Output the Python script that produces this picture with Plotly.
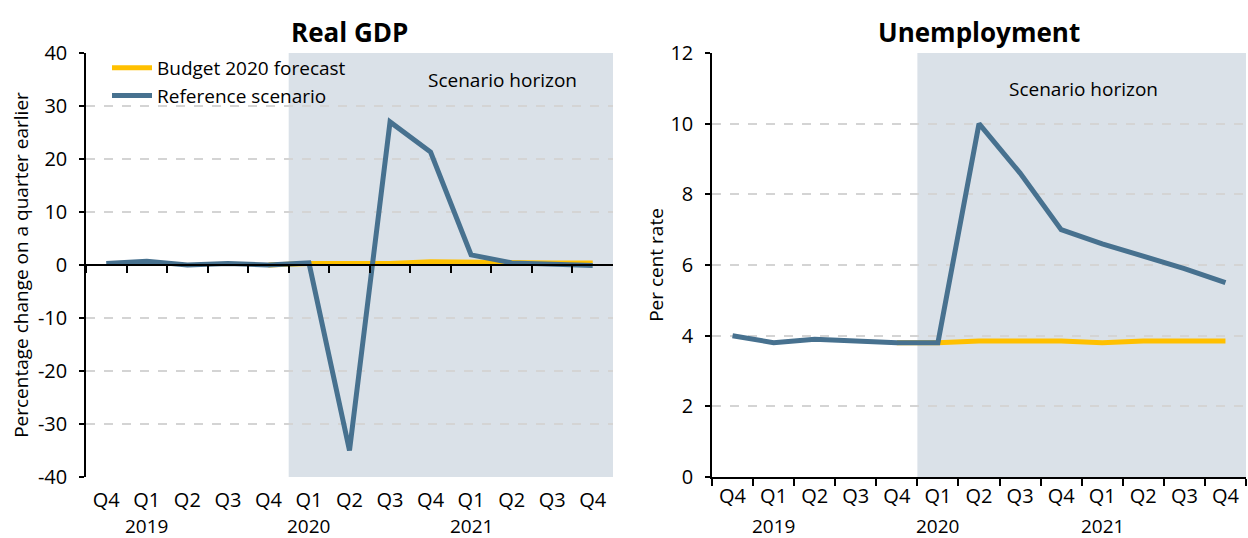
import plotly.graph_objects as go

# ---------------- data ----------------
categories = ["Q4 2018", "Q1 2019", "Q2 2019", "Q3 2019", "Q4 2019",
              "Q1 2020", "Q2 2020", "Q3 2020", "Q4 2020",
              "Q1 2021", "Q2 2021", "Q3 2021", "Q4 2021"]
quarter_labels = [c.split()[0] for c in categories]
year_label_positions = ["Q1 2019", "Q1 2020", "Q1 2021"]
year_labels = ["2019", "2020", "2021"]
horizon_start = "Q1 2020"

gdp_budget = [None, None, None, None, 0.0, 0.3, 0.3, 0.3, 0.6, 0.5, 0.3, 0.4, 0.4]
gdp_reference = [0.3, 0.7, 0.0, 0.3, 0.0, 0.4, -35.0, 27.0, 21.3, 1.9, 0.4, 0.1, -0.1]

unemp_budget = [None, None, None, None, 3.8, 3.8, 3.85, 3.85, 3.85, 3.8, 3.85, 3.85, 3.85]
unemp_reference = [4.0, 3.8, 3.9, 3.85, 3.8, 3.8, 10.0, 8.6, 7.0, 6.6, 6.25, 5.9, 5.5]

gdp_ticks = [-40, -30, -20, -10, 0, 10, 20, 30, 40]
gdp_tick_labels = ["-40", "-30", "-20", "-10", "0", "10", "20", "30", "40"]
unemp_ticks = [0, 2, 4, 6, 8, 10, 12]

# ---------------- style ----------------
W, H = 1248, 538
FONT = "Open Sans"
YELLOW = "#FFC000"
BLUE = "#47718F"
SHADE = "#DAE1E8"
GRID = "#D4D4D4"

dom_left = [86 / W, 613 / W]
dom_right = [712 / W, 1246 / W]
dom_y = [1 - 477 / H, 1 - 53 / H]
zero_pos = (dom_y[0] + dom_y[1]) / 2
x_range = [-0.5, len(categories) - 0.5]

fig = go.Figure()

fig.add_trace(go.Scatter(x=categories, y=gdp_budget, mode="lines", name="Budget 2020 forecast",
                         line=dict(color=YELLOW, width=5), xaxis="x", yaxis="y",
                         connectgaps=False))
fig.add_trace(go.Scatter(x=categories, y=gdp_reference, mode="lines", name="Reference scenario",
                         line=dict(color=BLUE, width=5), xaxis="x3", yaxis="y"))
fig.add_trace(go.Scatter(x=categories, y=unemp_budget, mode="lines", name="Budget 2020 forecast",
                         line=dict(color=YELLOW, width=5), xaxis="x2", yaxis="y2",
                         showlegend=False))
fig.add_trace(go.Scatter(x=categories, y=unemp_reference, mode="lines", name="Reference scenario",
                         line=dict(color=BLUE, width=5), xaxis="x2", yaxis="y2",
                         showlegend=False))

tickfont = dict(family=FONT, size=20, color="#000000")
cat_common = dict(type="category", categoryorder="array", categoryarray=categories,
                  range=x_range,
                  tickmode="array", tickvals=categories, ticktext=quarter_labels,
                  tickfont=tickfont, showgrid=False, zeroline=False, automargin=False)

start_idx = categories.index(horizon_start) - 0.5
end_idx = len(categories) - 0.5

fig.update_layout(
    width=W, height=H,
    margin=dict(l=0, r=0, t=0, b=0, autoexpand=False),
    paper_bgcolor="white", plot_bgcolor="rgba(0,0,0,0)",
    font=dict(family=FONT, size=20, color="#000000"),
    xaxis=dict(domain=dom_left, anchor="y", showline=False, ticks="outside", ticklen=5,
               tickcolor="rgba(0,0,0,0)", **cat_common),
    xaxis3=dict(domain=dom_left, overlaying="x", anchor="free", position=zero_pos,
                showline=True, linecolor="#000000", linewidth=1.5,
                ticks="outside", ticklen=7, tickwidth=1.5, tickcolor="#000000",
                tickson="boundaries", showticklabels=False, automargin=False,
                type="category", categoryorder="array", categoryarray=categories,
                range=x_range, showgrid=False, zeroline=False),
    yaxis=dict(domain=dom_y, anchor="x", range=[-40, 40], tickmode="array",
               tickvals=gdp_ticks, ticktext=gdp_tick_labels,
               showline=True, linecolor="#000000", linewidth=1.5,
               ticks="outside", ticklen=5, tickwidth=1.5, tickcolor="#000000",
               ticklabelstandoff=8, tickfont=tickfont, automargin=False,
               showgrid=True, gridcolor=GRID, griddash="dash", gridwidth=1.5, zeroline=False,
               title=dict(text="Percentage change on a quarter earlier",
                          font=dict(family=FONT, size=19), standoff=4)),
    xaxis2=dict(domain=dom_right, anchor="y2", showline=True, linecolor="#000000", linewidth=1.5,
                ticks="outside", ticklen=7, tickwidth=1.5, tickcolor="#000000",
                tickson="boundaries", **cat_common),
    yaxis2=dict(domain=dom_y, anchor="x2", range=[0, 12], tickmode="array", tickvals=unemp_ticks,
                showline=True, linecolor="#000000", linewidth=1.5,
                ticks="outside", ticklen=5, tickwidth=1.5, tickcolor="#000000",
                ticklabelstandoff=8, tickfont=tickfont, automargin=False,
                showgrid=True, gridcolor=GRID, griddash="dash", gridwidth=1.5, zeroline=False,
                title=dict(text="Per cent rate", font=dict(family=FONT, size=19), standoff=2)),
    legend=dict(x=107 / W, y=1 - 49 / H, xanchor="left", yanchor="top",
                bgcolor="rgba(0,0,0,0)", font=dict(family=FONT, size=19),
                tracegroupgap=0, itemwidth=40),
    showlegend=True,
)

# scenario horizon shading
for xr, yr in (("x", "y"), ("x2", "y2")):
    fig.add_shape(type="rect", xref=xr, yref=f"{yr} domain", x0=start_idx, x1=end_idx,
                  y0=0, y1=1, fillcolor=SHADE, line=dict(width=0), layer="below")

# titles
fig.add_annotation(text="<b>Real GDP</b>", xref="paper", yref="paper",
                   x=(dom_left[0] + dom_left[1]) / 2, y=1 - 32 / H, showarrow=False,
                   font=dict(family=FONT, size=26), xanchor="center", yanchor="middle")
fig.add_annotation(text="<b>Unemployment</b>", xref="paper", yref="paper",
                   x=(dom_right[0] + dom_right[1]) / 2, y=1 - 32 / H, showarrow=False,
                   font=dict(family=FONT, size=26), xanchor="center", yanchor="middle")

# scenario horizon labels
fig.add_annotation(text="Scenario horizon", xref="paper", yref="paper",
                   x=502 / W, y=1 - 80 / H, showarrow=False,
                   font=dict(family=FONT, size=19), xanchor="center", yanchor="middle")
fig.add_annotation(text="Scenario horizon", xref="paper", yref="paper",
                   x=1083 / W, y=1 - 89 / H, showarrow=False,
                   font=dict(family=FONT, size=19), xanchor="center", yanchor="middle")

# year labels under the quarter labels
for xr in ("x", "x2"):
    for pos, lab in zip(year_label_positions, year_labels):
        fig.add_annotation(text=lab, xref=xr, yref="paper", x=pos, y=1 - 526 / H,
                           showarrow=False, font=dict(family=FONT, size=19),
                           xanchor="center", yanchor="middle")

fig.write_html("out.html", config={"displayModeBar": False},
               post_script="document.body.style.margin='0';document.body.style.overflow='hidden';")
